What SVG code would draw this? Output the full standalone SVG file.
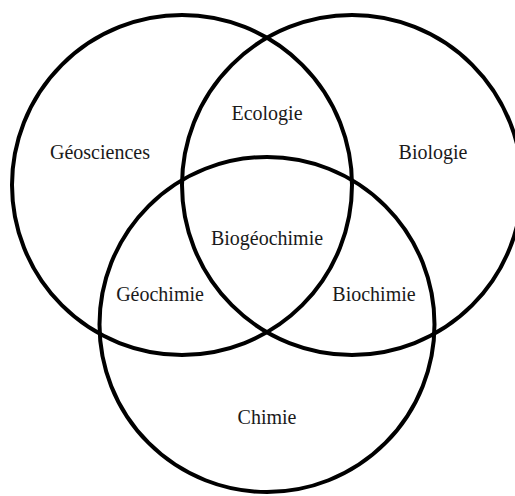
<svg xmlns="http://www.w3.org/2000/svg" width="515" height="496" viewBox="0 0 515 496">
<style>
.c{fill:none;stroke:#000;stroke-width:4}
.t{font-family:"Liberation Serif","Times New Roman",serif;font-size:20px;fill:#1a1a1a;text-anchor:middle}
</style>
<rect width="515" height="496" fill="#fff"/>
<g id="circles">
<circle id="geosciences-circle" class="c" cx="182" cy="185" r="170"/>
<circle id="biologie-circle" class="c" cx="352" cy="185" r="170"/>
<circle id="chimie-circle" class="c" cx="267" cy="324.5" r="167.5"/>
</g>
<g id="labels">
<text class="t" x="100" y="159">Géosciences</text>
<text class="t" x="267" y="120">Ecologie</text>
<text class="t" x="433" y="159">Biologie</text>
<text class="t" x="267" y="245">Biogéochimie</text>
<text class="t" x="160" y="301">Géochimie</text>
<text class="t" x="374" y="301">Biochimie</text>
<text class="t" x="267" y="424">Chimie</text>
</g>
</svg>
